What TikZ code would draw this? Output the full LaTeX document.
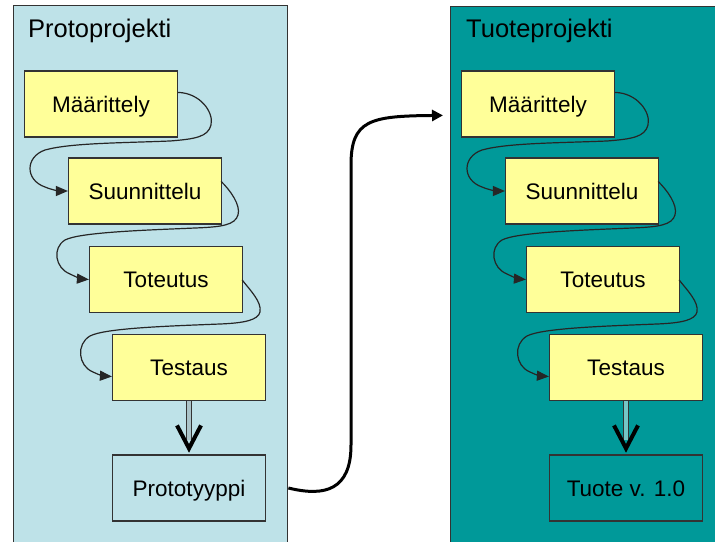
\documentclass[tikz,border=0pt]{standalone}
\usepackage{fontspec}
\setmainfont{Liberation Sans}
\usetikzlibrary{arrows.meta,calc}
\definecolor{panelL}{RGB}{190,226,232}
\definecolor{panelR}{RGB}{0,153,153}
\definecolor{boxY}{RGB}{255,255,153}
\definecolor{edge}{RGB}{51,51,51}
\tikzset{
 panel/.style={draw=edge, line width=1.4pt, anchor=north west, minimum width=274pt, minimum height=560pt, inner sep=0pt},
 title/.style={anchor=base west, inner sep=0pt, font=\fontsize{25.5}{30}\selectfont},
 phase/.style={draw=edge, line width=1.2pt, fill=boxY, minimum width=153pt, minimum height=66pt, inner sep=0pt, text height=16.1pt, text depth=0pt, font=\fontsize{22.5}{27}\selectfont},
 result/.style={phase, fill=#1},
 flow/.style={draw=black!85, line width=1.2pt, -{Triangle[length=12pt,width=10pt]}},
 shaft/.style={draw=edge, line width=1pt, double=#1, double distance=3.5pt},
 vtip/.style={draw=black, line width=4pt, line join=miter, line cap=butt},
 handoff/.style={draw=black, line width=3pt, -{Triangle[length=11pt,width=11pt]}},
}
\newcommand{\phaseflow}[2]{%
 \draw[flow] ($(m#1.north east)+(0,22)$) .. controls (200,93) and (214,112) .. (211,125)
   .. controls (208,137) and (195,139) .. (170,141)
   .. controls (120,143) and (70,143) .. (45,150)
   .. controls (25,157) and (25,180) .. (45,187)
   .. controls (52,190) and (60,191) .. (s#1.west);
 \draw[flow] ($(s#1.north east)+(-1,24)$) .. controls (230,190) and (241,205) .. (238,215)
   .. controls (235,225) and (222,227) .. (195,228)
   .. controls (150,230) and (80,232) .. (65,240)
   .. controls (52,248) and (55,268) .. (70,274)
   .. controls (76,277) and (82,279) .. (t#1.west);
 \draw[flow] ($(t#1.north east)+(-1,34)$) .. controls (250,290) and (262,302) .. (260,312)
   .. controls (258,320) and (245,323) .. (220,324)
   .. controls (170,326) and (105,328) .. (90,336)
   .. controls (76,344) and (78,366) .. (93,372)
   .. controls (99,375) and (104,376) .. ($(e#1.west)+(0,9)$);
 \draw[shaft=#2] (e#1.south) -- ($(p#1.north)+(0,-14)$);
 \draw[vtip] ($(p#1.north)+(-12,-29)$) -- ($(p#1.north)+(0,-6)$) -- ($(p#1.north)+(12,-29)$);
}
\begin{document}
\begin{tikzpicture}[x=1pt,y=-1pt]
\useasboundingbox (0,0) rectangle (715,541);
\clip (0,0) rectangle (715,541);
\fill[white] (0,0) rectangle (715,541);
\node[panel, fill=panelL] (lp) at (13,5) {};
\node[panel, fill=panelR, minimum width=300pt] (rp) at (450,6) {};
\node[title] (lt) at (28,37) {Protoprojekti};
\node[title] (rt) at (466,37) {Tuoteprojekti};
\node[phase] (m1) at (101,104) {Määrittely};
\node[phase] (s1) at (145,191) {Suunnittelu};
\node[phase] (t1) at (166,279.5) {Toteutus};
\node[phase] (e1) at (189,367.5) {Testaus};
\node[result=panelL] (p1) at (189,488) {Prototyyppi};
\node[phase] (m2) at (538,104) {Määrittely};
\node[phase] (s2) at (582,191) {Suunnittelu};
\node[phase] (t2) at (603,279.5) {Toteutus};
\node[phase] (e2) at (626,367.5) {Testaus};
\node[result=panelR] (p2) at (626,488) {Tuote v. 1.0};
\phaseflow{1}{panelL!70!gray}
\begin{scope}[xshift=437pt]
\phaseflow{2}{panelR!55!white}
\end{scope}
\coordinate (exit) at (lp.east |- p1.east);
\coordinate (entry) at ($(rp.west |- m2.north)+(-7,45)$);
\draw[handoff] (exit) .. controls (325,497) and (351,490) .. (351,445) -- (351,165)
  .. controls (351,120) and (370,116) .. (entry);
\end{tikzpicture}
\end{document}
